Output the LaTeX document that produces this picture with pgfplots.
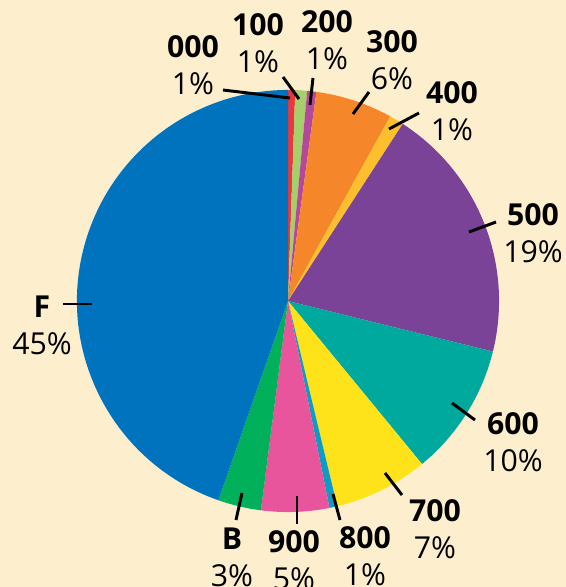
\documentclass[border=0pt]{standalone}
\usepackage{pgfplots}
\pgfplotsset{compat=1.18}
\usepackage{pgfplotstable}
\usepackage{fontspec}
\setmainfont{Open Sans}

\definecolor{bgcream}{HTML}{FDEFCE}
\definecolor{c000}{HTML}{E8383D}
\definecolor{c100}{HTML}{A5CF6A}
\definecolor{c200}{HTML}{B5489B}
\definecolor{c300}{HTML}{F5862A}
\definecolor{c400}{HTML}{FDBF2D}
\definecolor{c500}{HTML}{7B4397}
\definecolor{c600}{HTML}{00A99D}
\definecolor{c700}{HTML}{FFE31A}
\definecolor{c800}{HTML}{0E9BC4}
\definecolor{c900}{HTML}{E9559D}
\definecolor{cB}{HTML}{00B05A}
\definecolor{cF}{HTML}{0073BF}

% share of each slice (percent), clockwise from the top
\pgfplotstableread[col sep=comma]{
name,share,col
000,0.55,c000
100,0.9,c100
200,0.7,c200
300,5.9,c300
400,1.1,c400
500,19.7,c500
600,10.2,c600
700,7.2,c700
800,0.6,c800
900,5.2,c900
B,3.3,cB
F,44.65,cF
}\piedata

\def\rad{5.275cm}

\begin{document}
\begin{tikzpicture}
\begin{axis}[
    x=0.025cm, y=0.025cm,
    xmin=0, xmax=566, ymin=0, ymax=587,
    y dir=reverse,
    hide axis, clip=false,
    scale only axis,
]
\fill[bgcream] (axis cs:0,0) rectangle (axis cs:566,587);

\pgfplotstablegetrowsof{\piedata}
\pgfmathtruncatemacro\nrows{\pgfplotsretval-1}
\def\angA{90}
\pgfplotsforeachungrouped \i in {0,...,\nrows}{
  \pgfplotstablegetelem{\i}{share}\of\piedata \let\sh\pgfplotsretval
  \pgfplotstablegetelem{\i}{col}\of\piedata \let\cl\pgfplotsretval
  \pgfmathsetmacro\angB{\angA-3.6*\sh}
  \edef\temp{\noexpand\fill[\cl] (axis cs:288,301) -- ++(\angA:\rad)
     arc[start angle=\angA, end angle=\angB, radius=\rad] -- cycle;}
  \temp
  \global\let\angA\angB
}

% leader lines
\begin{scope}[line width=2.1pt]
\draw (axis cs:223,90) -- (axis cs:290,98);
\draw (axis cs:283,77) -- (axis cs:299,99);
\draw (axis cs:313,78) -- (axis cs:310,105);
\draw (axis cs:369,92) -- (axis cs:353,114);
\draw (axis cs:419,113) -- (axis cs:389,129);
\draw (axis cs:496,222) -- (axis cs:469,232);
\draw (axis cs:452,403) -- (axis cs:475,420);
\draw (axis cs:385,473) -- (axis cs:402,495);
\draw (axis cs:333,494) -- (axis cs:340,520);
\draw (axis cs:297,496) -- (axis cs:297,524);
\draw (axis cs:242,493) -- (axis cs:236,520);
\draw (axis cs:63,304) -- (axis cs:92,304);
\end{scope}

% labels
\begin{scope}[every node/.style={align=center, inner sep=0pt,
    font=\fontsize{21.5}{26.3}\selectfont}]
\node at (axis cs:193,65) {\textbf{000}\\1\%};
\node at (axis cs:258,43) {\textbf{100}\\1\%};
\node at (axis cs:327,40) {\textbf{200}\\1\%};
\node at (axis cs:392,60) {\textbf{300}\\6\%};
\node at (axis cs:452,111) {\textbf{400}\\1\%};
\node at (axis cs:533,233) {\textbf{500}\\19\%};
\node at (axis cs:513,442) {\textbf{600}\\10\%};
\node at (axis cs:435,529) {\textbf{700}\\7\%};
\node at (axis cs:365,556) {\textbf{800}\\1\%};
\node at (axis cs:294,560) {\textbf{900}\\5\%};
\node at (axis cs:232,557) {\textbf{B}\\3\%};
\node at (axis cs:42,325) {\textbf{F}\\45\%};
\end{scope}
\end{axis}
\pgfresetboundingbox
\path[use as bounding box] (current axis.south west) rectangle (current axis.north east);
\end{tikzpicture}
\end{document}
